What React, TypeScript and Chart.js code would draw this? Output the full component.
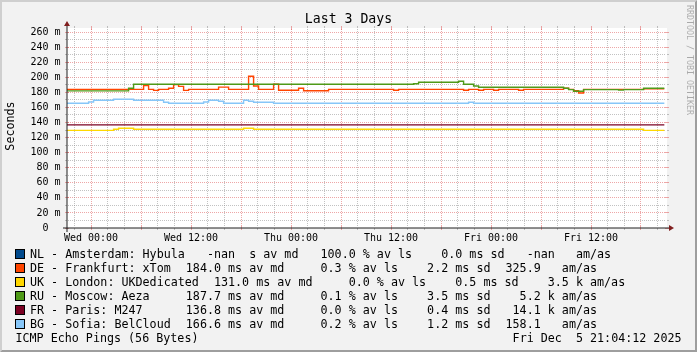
import React, { useEffect, useRef } from 'react';
import { Chart, registerables } from 'chart.js';

Chart.register(...registerables);

const MONO = '"DejaVu Sans Mono", monospace';

// ---- text ----
const chartTitle = 'Last 3 Days';
const yAxisTitle = 'Seconds';
const watermarkText = 'RRDTOOL / TOBI OETIKER';
const footerLeft = 'ICMP Echo Pings (56 Bytes)';
const footerRight = 'Fri Dec  5 21:04:12 2025';

// ---- axes (x in hours relative to Wed 00:00) ----
const xStartHours = -2.88;
const xEndHours = 69.12;
const yTopValue = 265.4;
const xTickHours = [0, 12, 24, 36, 48, 60];
const xTickLabels = ['Wed 00:00', 'Wed 12:00', 'Thu 00:00', 'Thu 12:00', 'Fri 00:00', 'Fri 12:00'];
const yUnitSuffix = 'm';

// ---- legend ----
const seriesNames = [
  'NL - Amsterdam: Hybula',
  'DE - Frankfurt: xTom',
  'UK - London: UKDedicated',
  'RU - Moscow: Aeza',
  'FR - Paris: M247',
  'BG - Sofia: BelCloud',
];
const seriesColors = ['#00498c', '#ff4500', '#ffd700', '#4f9a18', '#7b0022', '#87c6f8'];
const medianMs = [NaN, 184.0, 131.0, 187.7, 136.8, 166.6];
const lossPct = [100.0, 0.3, 0.0, 0.1, 0.0, 0.2];
const sdMs = [0.0, 2.2, 0.5, 3.5, 0.4, 1.2];
const amAs = [NaN, 325.9, 3500, 5200, 14100, 158.1];

// ---- series (median RTT in ms; step start times in hours) ----
const nlTimes: number[] = [];
const nlValues: number[] = [];
const deTimes = [-2.88, 6.31, 6.91, 7.51, 8.11, 9.31, 9.91, 10.51, 11.11, 11.71, 15.31, 16.51, 18.91, 19.51, 20.11, 21.91, 22.51, 24.91, 25.51, 28.51, 36.31, 36.91, 44.71, 45.31, 46.51, 47.11, 48.31, 48.91, 51.31, 51.91, 56.71, 57.31, 57.91, 58.51, 59.11, 66.31, 68.8];
const deValues = [184.0, 189.0, 184.0, 182.6, 184.0, 185.4, 190.2, 188.0, 182.6, 184.0, 187.0, 184.0, 201.3, 188.4, 184.0, 190.7, 182.7, 185.4, 182.2, 184.0, 182.7, 184.0, 182.7, 184.0, 182.7, 184.0, 182.7, 184.0, 182.7, 184.0, 185.4, 184.0, 182.2, 179.2, 184.0, 184.6, 184.6];
const ukTimes = [-2.88, 2.71, 3.31, 5.11, 18.31, 19.51, 66.31, 68.8];
const ukValues = [129.6, 131.0, 132.3, 131.0, 132.3, 131.0, 129.6, 129.6];
const ruTimes = [-2.88, 4.51, 5.11, 38.71, 39.31, 44.11, 44.71, 45.91, 46.51, 56.71, 57.31, 57.91, 59.11, 63.31, 63.91, 66.31, 68.8];
const ruValues = [182.0, 185.4, 190.7, 191.5, 193.4, 194.7, 190.7, 188.4, 186.7, 185.4, 183.6, 181.4, 183.6, 182.9, 183.6, 185.4, 185.4];
const frTimes = [-2.88, 68.8];
const frValues = [136.8, 136.8];
const bgTimes = [-2.88, -0.29, 0.31, 2.71, 5.11, 8.71, 9.31, 13.51, 14.11, 15.31, 15.91, 18.31, 18.91, 19.51, 21.91, 45.31, 45.91, 68.8];
const bgValues = [165.5, 167.2, 169.5, 170.8, 169.5, 166.8, 165.5, 167.2, 169.5, 168.2, 165.5, 169.5, 168.2, 166.8, 165.5, 166.8, 165.5, 165.5];

const seriesTimes = [nlTimes, deTimes, ukTimes, ruTimes, frTimes, bgTimes];
const seriesValues = [nlValues, deValues, ukValues, ruValues, frValues, bgValues];

// ---- rrdtool colours ----
const BACK = '#f2f2f2';
const SHADEA = '#cfcfcf';
const SHADEB = '#9e9e9e';
const GRID = 'rgba(143,143,143,0.55)';
const MGRID = 'rgba(222,79,79,0.5)';
const AXIS = '#1f1f1f';
const ARROW = '#801f1f';

const W = 697;
const H = 352;

const fmt = (v: number) => (Number.isNaN(v) ? '-nan' : v.toFixed(1)).padStart(5);
const siFmt = (v: number) => {
  if (Number.isNaN(v)) return `${fmt(v)}  `;
  if (v >= 1000) return `${fmt(v / 1000)} k`;
  return `${fmt(v)}  `;
};
const legendItems = (i: number) => [
  seriesNames[i].padEnd(20),
  Number.isNaN(medianMs[i]) ? `${fmt(medianMs[i])}  s av md ` : `${fmt(medianMs[i])} ms av md `,
  `${fmt(lossPct[i])} % av ls`,
  `${fmt(sdMs[i])} ms sd`,
  `${siFmt(amAs[i])} am/as`,
];

const align = (p: number) => Math.round(p - 0.5) + 0.5;

const rrdPlugin = {
  id: 'rrdFrame',
  beforeDraw(chart: any) {
    const { ctx } = chart;
    const a = chart.chartArea;
    ctx.save();
    ctx.fillStyle = BACK;
    ctx.fillRect(0, 0, W, H);
    ctx.fillStyle = SHADEA;
    ctx.beginPath();
    ctx.moveTo(0, H); ctx.lineTo(2, H - 2); ctx.lineTo(2, 2); ctx.lineTo(W - 2, 2); ctx.lineTo(W, 0); ctx.lineTo(0, 0);
    ctx.closePath(); ctx.fill();
    ctx.fillStyle = SHADEB;
    ctx.beginPath();
    ctx.moveTo(2, H - 2); ctx.lineTo(W - 2, H - 2); ctx.lineTo(W - 2, 2); ctx.lineTo(W, 0); ctx.lineTo(W, H); ctx.lineTo(0, H);
    ctx.closePath(); ctx.fill();
    ctx.fillStyle = '#ffffff';
    ctx.fillRect(a.left, a.top, a.right - a.left, a.bottom - a.top);
    ctx.restore();
  },
  beforeDatasetsDraw(chart: any) {
    // dotted rrdtool grid, positioned by the chart's own scales
    const { ctx } = chart;
    const a = chart.chartArea;
    const xs = chart.scales.x;
    const ys = chart.scales.y;
    const X0 = a.left, X1 = a.right, Y0 = a.bottom, Y1 = a.top;
    ctx.save();
    ys.ticks.forEach((t: any) => {
      const v = Math.round(t.value);
      if (v === 0) return;
      const r = Math.round(ys.getPixelForValue(t.value) - 0.5);
      ctx.fillStyle = v % 20 === 0 ? MGRID : GRID;
      for (let x = X0 + 1; x < X1 - 1; x += 2) ctx.fillRect(x, r, 1, 1);
    });
    xs.ticks.forEach((t: any) => {
      const v = Math.round(t.value);
      const c = Math.round(xs.getPixelForValue(t.value) - 0.5);
      ctx.fillStyle = v % 6 === 0 ? MGRID : GRID;
      for (let y = Y1 + 1; y < Y0 - 1; y += 2) ctx.fillRect(c, y, 1, 1);
    });
    ctx.restore();
  },
  afterDraw(chart: any) {
    const { ctx } = chart;
    const a = chart.chartArea;
    const xs = chart.scales.x;
    const ys = chart.scales.y;
    const X0 = a.left, X1 = a.right, Y0 = a.bottom, Y1 = a.top;
    ctx.save();
    ctx.lineWidth = 1;
    ctx.setLineDash([]);
    const seg = (x1: number, y1: number, x2: number, y2: number) => {
      ctx.beginPath(); ctx.moveTo(x1, y1); ctx.lineTo(x2, y2); ctx.stroke();
    };
    // grid end ticks
    ys.ticks.forEach((t: any) => {
      const y = align(ys.getPixelForValue(t.value));
      const major = Math.round(t.value) % 20 === 0;
      ctx.strokeStyle = major ? MGRID : GRID;
      if (major) { seg(X0 - 2, y, X0 + 2, y); seg(X1 - 2, y, X1 + 2, y); }
      else { seg(X0 - 2, y, X0, y); seg(X1, y, X1 + 2, y); }
    });
    xs.ticks.forEach((t: any) => {
      const x = align(xs.getPixelForValue(t.value));
      const major = Math.round(t.value) % 6 === 0;
      ctx.strokeStyle = major ? MGRID : GRID;
      if (major) { seg(x, Y1 - 2, x, Y1 + 2); seg(x, Y0 - 2, x, Y0 + 2); }
      else { seg(x, Y1 - 2, x, Y1); seg(x, Y0, x, Y0 + 2); }
    });
    // axes
    ctx.strokeStyle = AXIS;
    seg(X0 - 4, Y0, X1 + 4, Y0);
    seg(X0, Y0 + 4, X0, Y1 - 4);
    ctx.fillStyle = ARROW;
    ctx.beginPath(); ctx.moveTo(X1 + 2, Y0 - 3); ctx.lineTo(X1 + 2, Y0 + 3); ctx.lineTo(X1 + 7, Y0); ctx.closePath(); ctx.fill();
    ctx.beginPath(); ctx.moveTo(X0 - 3, Y1 - 2); ctx.lineTo(X0 + 3, Y1 - 2); ctx.lineTo(X0, Y1 - 7); ctx.closePath(); ctx.fill();

    // vertical unit label
    ctx.fillStyle = '#000';
    ctx.font = `11.7px ${MONO}`;
    ctx.textAlign = 'center';
    ctx.textBaseline = 'middle';
    ctx.save();
    ctx.translate(11, (Y0 + Y1) / 2 - 2);
    ctx.rotate(-Math.PI / 2);
    ctx.fillText(yAxisTitle, 0, 0);
    ctx.restore();

    // watermark
    ctx.save();
    ctx.fillStyle = 'rgba(0,0,0,0.3)';
    ctx.font = `8.3px ${MONO}`;
    ctx.textAlign = 'left';
    ctx.textBaseline = 'top';
    ctx.translate(693, 5);
    ctx.rotate(Math.PI / 2);
    ctx.fillText(watermarkText, 0, 0);
    ctx.restore();

    // legend
    ctx.font = `11.7px ${MONO}`;
    ctx.textAlign = 'left';
    ctx.textBaseline = 'alphabetic';
    const gap = 15.1;
    seriesNames.forEach((_, i) => {
      const base = 258.2 + 13.9 * i;
      const top = Math.round(base - 9.2);
      ctx.fillStyle = seriesColors[i];
      ctx.fillRect(15, top, 10, 10);
      ctx.strokeStyle = '#000';
      ctx.strokeRect(15.5, top + 0.5, 9, 9);
      ctx.fillStyle = '#000';
      let x = 30;
      legendItems(i).forEach((s) => {
        ctx.fillText(s, x, base);
        x += ctx.measureText(s).width + gap;
      });
    });
    const fb = 258.2 + 13.9 * 6;
    ctx.fillText(footerLeft, 15.5, fb);
    ctx.textAlign = 'right';
    ctx.fillText(footerRight, 681.5, fb);
    ctx.restore();
  },
};

export default function App() {
  const ref = useRef<HTMLCanvasElement>(null);
  useEffect(() => {
    document.body.style.margin = '0';
    const canvas = ref.current;
    if (!canvas) return;
    const datasets = seriesNames.map((name, i) => ({
      label: name,
      data: seriesTimes[i].map((t, j) => ({ x: t, y: seriesValues[i][j] })),
      borderColor: seriesColors[i],
      backgroundColor: seriesColors[i],
      borderWidth: 1.4,
      pointRadius: 0,
      stepped: true as const,
      fill: false,
      order: seriesNames.length - 1 - i,
    }));
    const chart = new Chart(canvas, {
      type: 'line',
      data: { datasets },
      plugins: [rrdPlugin],
      options: {
        animation: false,
        responsive: false,
        devicePixelRatio: 1,
        events: [],
        layout: { padding: 0 },
        plugins: {
          legend: { display: false },
          tooltip: { enabled: false },
          title: {
            display: true,
            text: chartTitle,
            color: '#000',
            font: { family: MONO, size: 13.2, weight: 'normal', lineHeight: 1 },
            padding: { top: 12.8, bottom: 2 },
          },
        },
        scales: {
          x: {
            type: 'linear',
            position: 'bottom',
            min: xStartHours,
            max: xEndHours,
            afterBuildTicks: (scale: any) => {
              const ticks = [];
              for (let h = -2; h <= 68; h += 2) ticks.push({ value: h });
              scale.ticks = ticks;
            },
            afterFit: (scale: any) => { scale.height = H - 228; },
            grid: { display: false, drawTicks: false },
            border: { display: false },
            ticks: {
              autoSkip: false,
              maxRotation: 0,
              minRotation: 0,
              padding: 4.5,
              color: '#000',
              font: { family: MONO, size: 10 },
              callback: (v: any) => {
                const k = xTickHours.indexOf(Math.round(Number(v)));
                return k >= 0 ? xTickLabels[k] : '';
              },
            },
          },
          y: {
            type: 'linear',
            position: 'left',
            min: 0,
            max: yTopValue,
            afterFit: (scale: any) => { scale.width = 67; },
            grid: { display: false, drawTicks: false },
            border: { display: false },
            ticks: {
              stepSize: 10,
              includeBounds: false,
              autoSkip: false,
              padding: 6.5,
              color: '#000',
              font: { family: MONO, size: 10 },
              callback: (v: any) => {
                const n = Math.round(Number(v));
                if (n % 20 !== 0) return '';
                return n === 0 ? '0  ' : `${n} ${yUnitSuffix}`;
              },
            },
          },
          yRight: {
            type: 'linear',
            position: 'right',
            display: true,
            afterFit: (scale: any) => { scale.width = 30; },
            grid: { display: false, drawTicks: false },
            border: { display: false },
            ticks: { display: false },
          },
        },
      } as any,
    });
    return () => chart.destroy();
  }, []);
  return <canvas ref={ref} width={W} height={H} style={{ display: 'block', width: `${W}px`, height: `${H}px` }} />;
}
